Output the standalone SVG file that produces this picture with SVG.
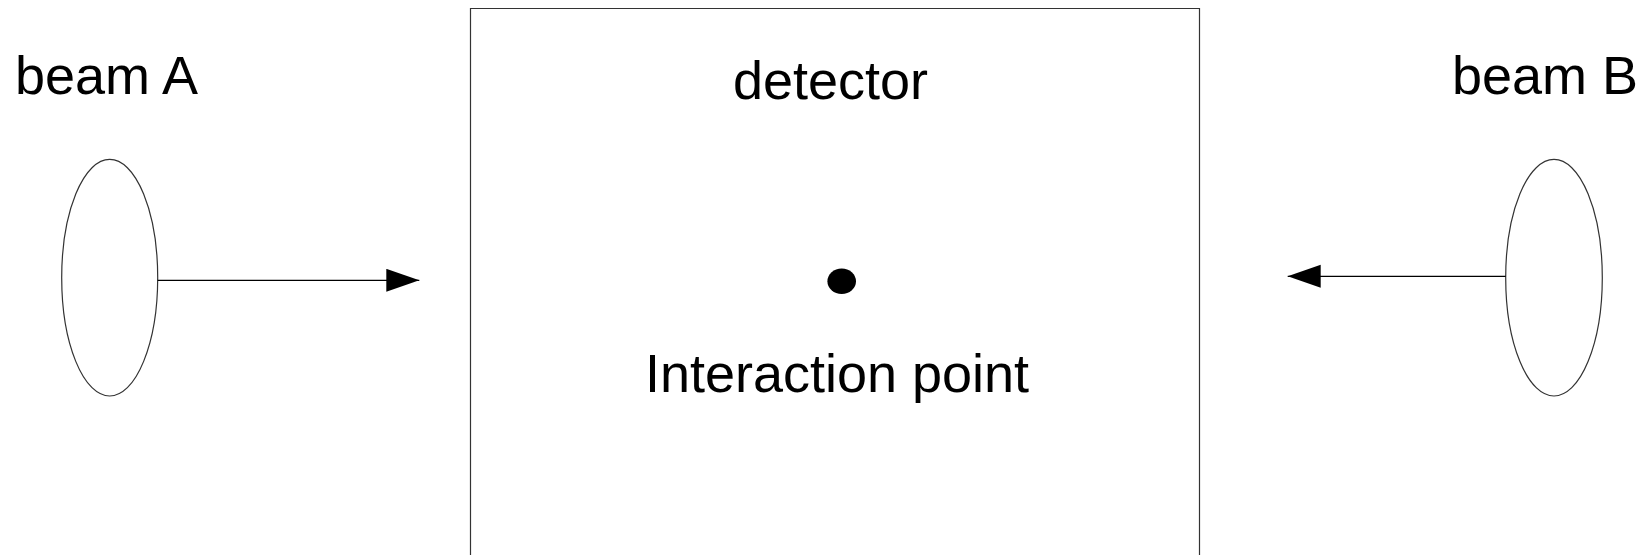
<svg xmlns="http://www.w3.org/2000/svg" width="1645" height="555" viewBox="0 0 1645 555">
  <style>
    .lbl { font-family: "Liberation Sans", Arial, sans-serif; font-size: 54px; fill: #000; }
    .shape { fill: none; stroke: #333; stroke-width: 1.2; }
    .conn { stroke: #000; stroke-width: 1.2; fill: none; }
  </style>
  <defs>
    <marker id="arrow" markerUnits="userSpaceOnUse" markerWidth="34" markerHeight="24" refX="33" refY="11.5" orient="auto">
      <polygon points="0,0 33,11.5 0,23" fill="#000"/>
    </marker>
  </defs>
  <rect width="1645" height="555" fill="#fff"/>
  <g id="detector">
    <path class="shape" d="M470.5,560 L470.5,8.5 L1199.5,8.5 L1199.5,560"/>
    <text class="lbl" x="830.5" y="99" text-anchor="middle" font-size="52.5">detector</text>
  </g>
  <g id="interaction-point">
    <ellipse cx="841.7" cy="281.2" rx="14.3" ry="12.8" fill="#000"/>
    <text class="lbl" x="837" y="391.5" text-anchor="middle" font-size="51.5">Interaction point</text>
  </g>
  <g id="beam-a">
    <ellipse class="shape" cx="109.7" cy="277.7" rx="48" ry="118.3"/>
    <text class="lbl" x="15" y="94.3">beam A</text>
  </g>
  <g id="beam-b">
    <ellipse class="shape" cx="1554" cy="277.7" rx="48.3" ry="118.3"/>
    <text class="lbl" x="1452" y="94.3">beam B</text>
  </g>
  <g id="connectors">
    <line class="conn" x1="157.7" y1="280.3" x2="419.3" y2="280.3" marker-end="url(#arrow)"/>
    <line class="conn" x1="1505.7" y1="276.3" x2="1287.7" y2="276.3" marker-end="url(#arrow)"/>
  </g>
</svg>
